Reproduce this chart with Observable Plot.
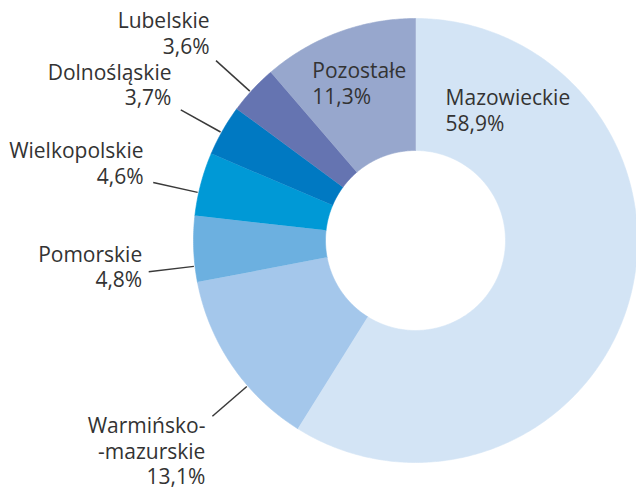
<!DOCTYPE html>
<html><head><meta charset="utf-8">
<script src="https://cdn.jsdelivr.net/npm/d3@7"></script>
<script src="https://cdn.jsdelivr.net/npm/@observablehq/plot@0.6"></script>
<style>body{margin:0;background:#fff}#chart{width:636px;height:490px}</style>
</head><body><div id="chart"></div>
<script>
// ---- data ----
const regions = ["Mazowieckie","Warmińsko-mazurskie","Pomorskie","Wielkopolskie","Dolnośląskie","Lubelskie","Pozostałe"];
const displayNames = ["Mazowieckie","Warmińsko-\n-mazurskie","Pomorskie","Wielkopolskie","Dolnośląskie","Lubelskie","Pozostałe"];
const shares = [58.9,13.1,4.8,4.6,3.7,3.6,11.3];
const colors = ["#d3e4f5","#a4c7eb","#6cb0e0","#0099d6","#0079c2","#6574b1","#97a7cd"];

// ---- layout (styles) ----
const W = 636, H = 490, CX = 415, CY = 240, R = 222, INNER = 90 / 222;
const FONT = 21, LH = 1.22;
const xDomain = [-CX / R, (W - CX) / R];
const yDomain = [-(H - CY) / R, CY / R];
const outsideLayout = {
  "Warmińsko-mazurskie": {shift: -6.5, dx: -7, dy: -1.5, anchor: "top"},
  "Pomorskie": {shift: -4.5, dx: -6.5, dy: 15.5, anchor: "bottom"},
  "Wielkopolskie": {shift: -2.3, dx: -9.7, dy: 1, anchor: "bottom"},
  "Dolnośląskie": {shift: -0.6, dx: -9.3, dy: -4.4, anchor: "bottom"},
  "Lubelskie": {shift: -0.8, dx: -6.4, dy: -7, anchor: "bottom"}
};
const insideLayout = {
  "Mazowieckie": {fromStart: 11.1, r: 0.704},
  "Pozostałe": {fromStart: 10.9, r: 0.936}
};

// ---- geometry from data ----
const total = d3.sum(shares);
let acc = 0;
const slices = regions.map((name, i) => {
  const a0 = acc / total * 2 * Math.PI; acc += shares[i];
  const a1 = acc / total * 2 * Math.PI;
  return {name, i, a0, a1, mid: (a0 + a1) / 2,
    label: displayNames[i] + "\n" + shares[i].toFixed(1).replace(".", ",") + "%"};
});
const pts = [];
for (const s of slices) {
  const n = Math.max(6, Math.ceil((s.a1 - s.a0) / 0.01));
  for (let k = 0; k <= n; k++) { const a = s.a0 + (s.a1 - s.a0) * k / n; pts.push({name: s.name, x: Math.sin(a), y: Math.cos(a)}); }
  for (let k = n; k >= 0; k--) { const a = s.a0 + (s.a1 - s.a0) * k / n; pts.push({name: s.name, x: INNER * Math.sin(a), y: INNER * Math.cos(a)}); }
}
const leaders = [], outBottom = [], outTop = [], inside = [];
for (const s of slices) {
  const o = outsideLayout[s.name];
  if (o) {
    const a = s.mid + o.shift * Math.PI / 180;
    const l = {x1: 1.005 * Math.sin(a), y1: 1.005 * Math.cos(a), x2: 1.21 * Math.sin(a), y2: 1.21 * Math.cos(a)};
    leaders.push(l);
    const t = {label: s.label, x: l.x2 + o.dx / R, y: l.y2 - o.dy / R};
    (o.anchor === "top" ? outTop : outBottom).push(t);
  }
  const ins = insideLayout[s.name];
  if (ins) {
    const a = s.a0 + ins.fromStart * Math.PI / 180;
    inside.push({label: s.label, x: ins.r * Math.sin(a), y: ins.r * Math.cos(a)});
  }
}

const textStyle = {text: "label", x: "x", y: "y", fontSize: FONT, fontFamily: "Open Sans", fill: "#333", lineHeight: LH};
const chart = Plot.plot({
  width: W, height: H, margin: 0,
  x: {domain: xDomain, axis: null},
  y: {domain: yDomain, axis: null},
  color: {domain: regions, range: colors},
  marks: [
    Plot.line(pts, {x: "x", y: "y", z: "name", fill: "name", stroke: "name", strokeWidth: 0.6}),
    Plot.link(leaders, {x1: "x1", y1: "y1", x2: "x2", y2: "y2", stroke: "#3a3a3a", strokeWidth: 1.5}),
    Plot.text(outBottom, {...textStyle, textAnchor: "end", lineAnchor: "bottom"}),
    Plot.text(outTop, {...textStyle, textAnchor: "end", lineAnchor: "top"}),
    Plot.text(inside, {...textStyle, textAnchor: "start", lineAnchor: "top"})
  ]
});
document.getElementById("chart").append(chart);
</script>
</body></html>
